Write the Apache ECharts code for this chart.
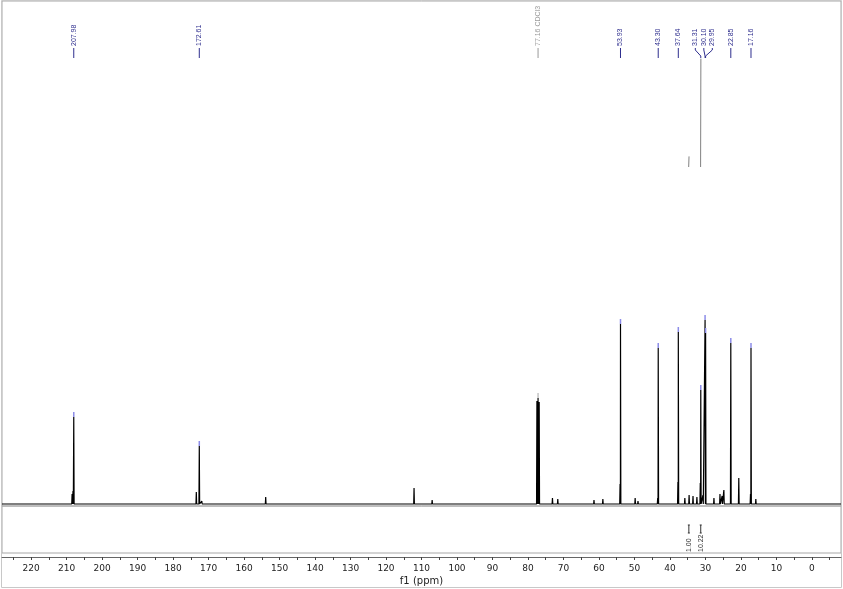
<!DOCTYPE html>
<html><head><meta charset="utf-8">
<script src="https://cdn.jsdelivr.net/npm/echarts@6/dist/echarts.min.js"></script>
<style>html,body{margin:0;padding:0;background:#fff}#c{width:843px;height:589px}</style>
</head><body><div id="c"></div>
<script>
// ---- data ----
const axisMin = -8.2, axisMax = 228.2;
const tickLabelValues = [220,210,200,190,180,170,160,150,140,130,120,110,100,90,80,70,60,50,40,30,20,10,0];
const tickMarkValues = [225,220,215,210,205,200,195,190,185,180,175,170,165,160,155,150,145,140,135,130,125,120,115,110,105,100,95,90,85,80,75,70,65,60,55,50,45,40,35,30,25,20,15,10,5,0,-5];

const labeledPpm    = [207.98, 172.61, 77.16, 53.93, 43.30, 37.64, 31.31, 30.10, 29.95, 22.85, 17.16];
const labeledHeight = [87, 58, 106, 180, 156, 172, 114, 184, 171, 161, 156];
const labeledText   = ['207.98','172.61','77.16 CDCl3','53.93','43.30','37.64','31.31','30.10','29.95','22.85','17.16'];
const isSolvent     = [0,0,1,0,0,0,0,0,0,0,0];

const solventTriplet = [[77.48, 103], [76.84, 102]];
const minorPeaks = [
  [208.45, 10], [208.2, 13], [173.45, 12], [171.9, 3], [153.9, 7], [112.1, 16], [107.0, 4],
  [73.1, 6], [71.6, 5], [61.4, 4], [58.9, 5], [54.05, 20], [49.8, 6], [49.0, 3],
  [43.45, 6], [37.75, 22], [35.8, 6], [34.6, 9], [33.5, 8], [32.4, 7], [31.45, 21],
  [30.7, 9], [27.6, 6], [25.9, 10], [25.3, 8], [24.8, 14], [20.6, 26], [17.3, 10], [15.8, 5]
];

const integralFrom  = [34.72, 31.36];
const integralTo    = [34.62, 31.28];
const integralValue = [1.00, 10.22];

// ---- build ----
const allPeaks = [];
labeledPpm.forEach((p, i) => allPeaks.push([p, labeledHeight[i]]));
solventTriplet.forEach(d => allPeaks.push(d));
minorPeaks.forEach(d => allPeaks.push(d));
allPeaks.sort((a, b) => b[0] - a[0]);
const W = 0.1;
const spectrum = [[axisMax, 0]];
allPeaks.forEach(([p, h]) => { spectrum.push([p + W, 0], [p, h], [p - W, 0]); });
spectrum.push([axisMin, 0]);

const INT_BASE = 337, INT_SCALE = 10.6;
const integralSeries = integralValue.map((v, i) => ({
  type: 'line', xAxisIndex: 0, yAxisIndex: 0, showSymbol: false, silent: true,
  lineStyle: { color: '#808080', width: 1 },
  data: [[integralFrom[i], INT_BASE], [integralTo[i], INT_BASE + v * INT_SCALE]],
  z: 3
}));

function spread(xs, gap) {
  const out = xs.slice();
  let i = 0;
  while (i < xs.length) {
    let j = i;
    while (j + 1 < xs.length && xs[j + 1] - xs[j] < gap) j++;
    if (j > i) {
      let m = 0; for (let k = i; k <= j; k++) m += xs[k]; m /= (j - i + 1);
      const start = m - gap * (j - i) / 2;
      for (let k = i; k <= j; k++) out[k] = start + gap * (k - i);
    }
    i = j + 1;
  }
  return out;
}

const LABEL_BASE = 446;
const FONT = 'DejaVu Sans';
const LABEL_FONT = 'Liberation Sans';

const option = {
  animation: false,
  grid: [
    { left: 2, right: 2, top: 1, bottom: 83, show: true, borderColor: '#a8a8a8', borderWidth: 1 },
    { left: 2, right: 2, top: 506, bottom: 36, show: true, borderColor: '#a8a8a8', borderWidth: 1 }
  ],
  xAxis: [
    { type: 'value', gridIndex: 0, min: axisMin, max: axisMax, inverse: true, show: false },
    { type: 'value', gridIndex: 1, min: axisMin, max: axisMax, inverse: true, position: 'bottom', offset: 4,
      axisLine: { show: true, onZero: false, lineStyle: { color: '#666', width: 1 } },
      axisTick: { show: true, length: 3, customValues: tickMarkValues, lineStyle: { color: '#444' } },
      axisLabel: { customValues: tickLabelValues, margin: 7, fontSize: 9, color: '#222', fontFamily: FONT },
      splitLine: { show: false },
      name: 'f1 (ppm)', nameLocation: 'middle', nameGap: 19,
      nameTextStyle: { fontSize: 10, color: '#222', fontFamily: FONT } }
  ],
  yAxis: [
    { type: 'value', gridIndex: 0, min: -2, max: 503, show: false },
    { type: 'value', gridIndex: 1, min: 0, max: 47, show: false }
  ],
  series: [
    { type: 'line', xAxisIndex: 0, yAxisIndex: 0, data: spectrum, showSymbol: false, silent: true,
      lineStyle: { color: '#000', width: 1.2 }, z: 2 },
    ...integralSeries,
    { type: 'custom', xAxisIndex: 0, yAxisIndex: 0, silent: true, z: 5,
      data: labeledPpm.map((p, i) => [p, labeledHeight[i], i]),
      renderItem: (params, api) => {
        const i = api.value(2);
        const xs = labeledPpm.map(p => api.coord([p, 0])[0]);
        const disp = spread(xs, 8.5);
        const px = xs[i], dx = disp[i];
        const yB = api.coord([labeledPpm[i], LABEL_BASE])[1];
        const top = api.coord([labeledPpm[i], labeledHeight[i]])[1];
        const col = isSolvent[i] ? '#9a9a9a' : '#2e2e8e';
        const mcol = isSolvent[i] ? '#c4c4c4' : '#8c8ce8';
        return { type: 'group', children: [
          { type: 'polyline', shape: { points: [[px, yB], [px, yB - 2], [dx, yB - 8], [dx, yB - 10]] },
            style: { stroke: col, lineWidth: 1, fill: null } },
          { type: 'text', x: dx, y: yB - 12, rotation: Math.PI / 2,
            style: { text: labeledText[i], x: 0, y: 0, align: 'left', verticalAlign: 'middle',
                     fill: col, font: '7px "' + LABEL_FONT + '"' } },
          { type: 'line', shape: { x1: px, y1: top, x2: px, y2: top - 5 },
            style: { stroke: mcol, lineWidth: 1.5 } }
        ] };
      }
    },
    { type: 'custom', xAxisIndex: 1, yAxisIndex: 1, silent: true, z: 5,
      data: integralValue.map((v, i) => [(integralFrom[i] + integralTo[i]) / 2, v, i]),
      renderItem: (params, api) => {
        const i = api.value(2);
        const c = (integralFrom[i] + integralTo[i]) / 2;
        const x = api.coord([c, 0])[0];
        const y1 = api.coord([c, 28])[1], y2 = api.coord([c, 20])[1];
        const yt = api.coord([c, 1])[1];
        return { type: 'group', children: [
          { type: 'line', shape: { x1: x, y1: y1, x2: x, y2: y2 }, style: { stroke: '#333', lineWidth: 1 } },
          { type: 'line', shape: { x1: x - 1, y1: y1, x2: x + 1, y2: y1 }, style: { stroke: '#333', lineWidth: 1 } },
          { type: 'line', shape: { x1: x - 1, y1: y2, x2: x + 1, y2: y2 }, style: { stroke: '#333', lineWidth: 1 } },
          { type: 'text', x: x, y: yt, rotation: Math.PI / 2,
            style: { text: integralValue[i].toFixed(2), x: 0, y: 0, align: 'left', verticalAlign: 'middle',
                     fill: '#333', font: '7px "' + LABEL_FONT + '"' } }
        ] };
      }
    }
  ],
  graphic: [
    { type: 'rect', silent: true, shape: { x: 1.5, y: 0.5, width: 840, height: 587 },
      style: { fill: null, stroke: '#c8c8c8', lineWidth: 1 } }
  ]
};
echarts.init(document.getElementById('c'), null, { renderer: 'canvas' }).setOption(option);
</script></body></html>
